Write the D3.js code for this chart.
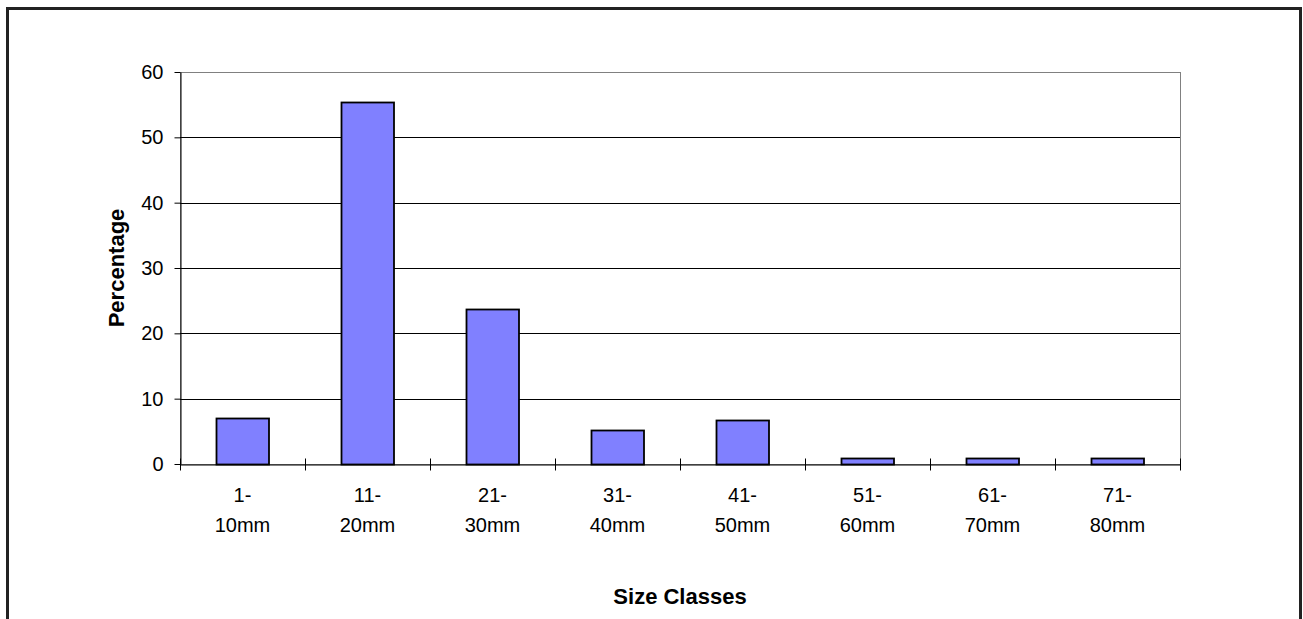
<!DOCTYPE html>
<html>
<head>
<meta charset="utf-8">
<script src="https://cdn.jsdelivr.net/npm/d3@7"></script>
<style>
  html, body { margin: 0; padding: 0; background: #fff; }
  svg { display: block; font-family: Arial, "Liberation Sans", sans-serif; }
</style>
</head>
<body>
<svg id="chart" width="1303" height="619"></svg>
<script>
// Size-class distribution
const categoriesTop = ["1-", "11-", "21-", "31-", "41-", "51-", "61-", "71-"];
const categoriesBottom = ["10mm", "20mm", "30mm", "40mm", "50mm", "60mm", "70mm", "80mm"];
const percentages = [7.0, 55.4, 23.8, 5.2, 6.7, 0.9, 0.9, 0.9];
const yTicks = [0, 10, 20, 30, 40, 50, 60];
const xTitle = "Size Classes";
const yTitle = "Percentage";

const svg = d3.select("#chart");
const plot = { left: 180, right: 1180, top: 72, bottom: 464 };
const FONT = "Arial, 'Liberation Sans', sans-serif";

// outer frame (bottom edge runs off the canvas)
svg.append("rect")
  .attr("x", 7.5).attr("y", 8.5)
  .attr("width", 1293).attr("height", 640)
  .attr("fill", "none").attr("stroke", "#222").attr("stroke-width", 3);

const x = d3.scaleBand()
  .domain(d3.range(categoriesTop.length))
  .range([plot.left, plot.right])
  .paddingInner(0.58).paddingOuter(0.29);

const xEdges = d3.scaleLinear()
  .domain([0, categoriesTop.length])
  .range([plot.left, plot.right]);

const y = d3.scaleLinear().domain([0, 60]).range([plot.bottom, plot.top]);

// plot area border (gray)
svg.append("rect")
  .attr("x", plot.left + 0.5).attr("y", plot.top + 0.5)
  .attr("width", plot.right - plot.left).attr("height", plot.bottom - plot.top)
  .attr("fill", "none").attr("stroke", "#808080").attr("stroke-width", 1);

// gridlines
svg.append("g").selectAll("line")
  .data(yTicks.filter(t => t > 0 && t < 60))
  .join("line")
  .attr("x1", plot.left).attr("x2", plot.right)
  .attr("y1", d => Math.round(y(d)) + 0.5).attr("y2", d => Math.round(y(d)) + 0.5)
  .attr("stroke", "#000").attr("stroke-width", 1);

// bars
svg.append("g").selectAll("rect")
  .data(percentages)
  .join("rect")
  .attr("x", (d, i) => Math.round(x(i)) + 0.5)
  .attr("y", d => Math.round(y(d)) + 0.5)
  .attr("width", x.bandwidth())
  .attr("height", d => Math.round(y(0)) - Math.round(y(d)))
  .attr("fill", "#8080ff")
  .attr("stroke", "#000").attr("stroke-width", 1.8);

// y axis
const yAxis = svg.append("g")
  .attr("transform", `translate(${plot.left + 0.5},0)`)
  .call(d3.axisLeft(y).tickValues(yTicks).tickSize(6).tickPadding(11).tickSizeOuter(0));
yAxis.select(".domain").attr("stroke", "#000");
yAxis.selectAll(".tick line").attr("stroke", "#000");
yAxis.selectAll(".tick text").attr("font-size", 20).attr("fill", "#000")
  .attr("font-family", FONT);

// x axis baseline with ticks between categories
const xAxis = svg.append("g")
  .attr("transform", `translate(0,${Math.round(y(0)) + 0.5})`)
  .call(d3.axisBottom(xEdges).tickValues(d3.range(categoriesTop.length + 1))
    .tickSize(6).tickSizeOuter(0).tickFormat(""));
xAxis.select(".domain").attr("stroke", "#000");
xAxis.selectAll(".tick line").attr("stroke", "#000").attr("y1", -6).attr("y2", 6);

// category labels (two lines)
const labels = svg.append("g").selectAll("text")
  .data(categoriesTop)
  .join("text")
  .attr("text-anchor", "middle")
  .attr("font-size", 20).attr("fill", "#000");
labels.append("tspan").attr("x", (d, i) => x(i) + x.bandwidth() / 2).attr("y", 502).text(d => d);
labels.append("tspan").attr("x", (d, i) => x(i) + x.bandwidth() / 2).attr("y", 532)
  .text((d, i) => categoriesBottom[i]);

// axis titles
svg.append("text")
  .attr("x", (plot.left + plot.right) / 2).attr("y", 604)
  .attr("text-anchor", "middle").attr("font-size", 22).attr("font-weight", "bold")
  .text(xTitle);

svg.append("text")
  .attr("transform", `translate(124,${(plot.top + plot.bottom) / 2}) rotate(-90)`)
  .attr("text-anchor", "middle").attr("font-size", 22).attr("font-weight", "bold")
  .text(yTitle);
</script>
</body>
</html>
